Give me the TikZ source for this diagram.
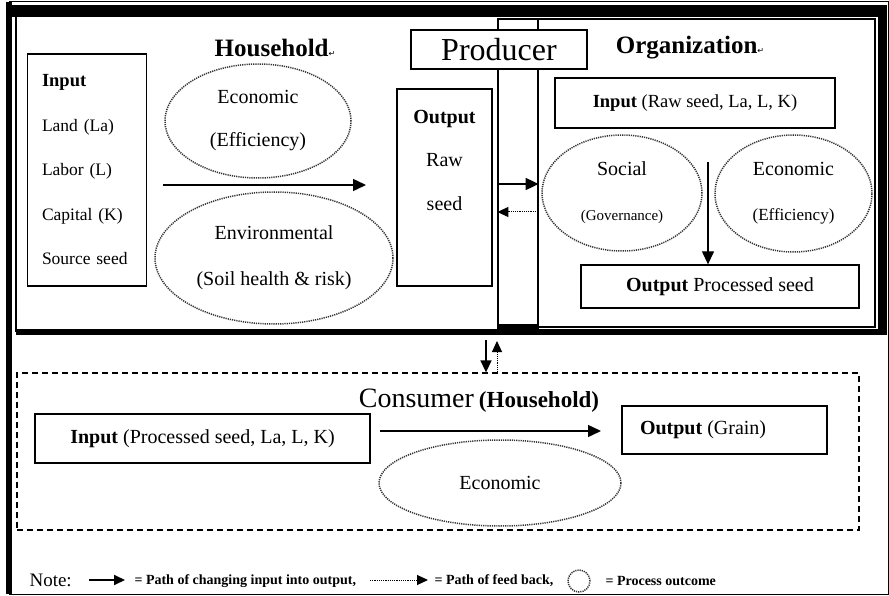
\documentclass[tikz,border=0pt]{standalone}
\usepackage{fontspec}
\setmainfont{Liberation Serif}
\newfontfamily\markfont{DejaVu Sans}
\usetikzlibrary{shapes.geometric,arrows.meta}

\begin{document}
\begin{tikzpicture}[x=1pt,y=-1pt,
    box/.style={draw, line width=1.3pt, inner sep=0pt},
    outcome/.style={draw=black!80, ellipse, line width=1.5pt, dash pattern=on 1.2pt off 1pt, text=black, inner sep=0pt, align=center},
    flow/.style={line width=1.5pt, -{Triangle[length=13pt,width=12pt]}},
    feedback/.style={line width=1pt, dash pattern=on 1.2pt off 1pt, -{Triangle[length=11pt,width=10pt]}}]

    \useasboundingbox (0,0) rectangle (889,596);
    \draw[line width=1pt] (9,2) rectangle (888,594);
    \draw[line width=6pt] (9,2) -- (9,594);

    \node[box, minimum width=40pt, minimum height=312pt] (col) at (518,175) {};
    \node[box, minimum width=337pt, minimum height=308pt] (orgbox) at (706.5,173) {};
    \draw[line width=12pt] (6,11) -- (887,11);
    \draw[line width=9pt] (882.5,5) -- (882.5,335);
    \draw[line width=6pt] (16,332) -- (887,332);
    \draw[line width=1.2pt] (16,11) -- (16,332);
    \fill (498,324) rectangle (538,335);

    \node[box, fill=white, minimum width=176pt, minimum height=39pt, font=\fontsize{32}{32}\selectfont] (producer) at (499,49.5) {Producer};
    \node[font=\bfseries\fontsize{25}{25}\selectfont] (household) at (275,48) {Household{\markfont\mdseries\fontsize{8}{8}\selectfont ↵}};
    \node[font=\bfseries\fontsize{25}{25}\selectfont] (orglabel) at (690,48) {Organization{\markfont\mdseries\fontsize{8}{8}\selectfont ↵}};

    \node[box, minimum width=119pt, minimum height=232pt, text width=90pt, align=left, font=\fontsize{17.5}{44.5}\selectfont] (hhin) at (87,170) {{\fontsize{18.5}{18.5}\selectfont\textbf{Input}}\\Land (La)\\Labor (L)\\Capital (K)\\Source seed};
    \node[outcome, minimum width=186pt, minimum height=114pt, font=\fontsize{20}{43}\selectfont] (hhecon) at (258,121) {Economic\\(Efficiency)};
    \node[outcome, minimum width=238pt, minimum height=132pt, font=\fontsize{20}{46}\selectfont] (hhenv) at (274,258) {Environmental\\(Soil health \& risk)};
    \coordinate (hhfrom) at (163,185);
    \coordinate (hhto) at (366,185);
    \draw[flow] (hhfrom) -- (hhto);

    \node[box, minimum width=95pt, minimum height=197pt] (hhout) at (444.5,187.5) {};
    \node[font=\fontsize{20}{43.5}\selectfont, align=center] (hhouttxt) at (444.5,160) {\textbf{Output}\\Raw\\seed};

    \coordinate (rawto) at (col.east |- 0,184);
    \draw[flow] (col.west |- rawto) -- (rawto);
    \coordinate (fbfrom) at (536,212);
    \draw[feedback] (fbfrom) -- (col.west |- fbfrom);

    \node[box, minimum width=280pt, minimum height=50pt, font=\fontsize{18.5}{18.5}\selectfont] (orgin) at (695,103) {\textbf{Input} (Raw seed, La, L, K)};
    \node[outcome, minimum width=160pt, minimum height=116pt, font=\fontsize{20}{45}\selectfont] (social) at (622,193) {Social\\{\fontsize{15}{15}\selectfont(Governance)}};
    \node[outcome, minimum width=157pt, minimum height=117pt, font=\fontsize{20}{45}\selectfont] (orgecon) at (793.5,193.5) {Economic\\{\fontsize{17}{17}\selectfont(Efficiency)}};
    \node[box, minimum width=278pt, minimum height=43pt, font=\fontsize{20}{20}\selectfont] (procout) at (720,286.5) {\textbf{Output} Processed seed};
    \coordinate (orgfrom) at (708,162);
    \draw[flow, line width=1.2pt] (orgfrom) -- (orgfrom |- procout.north);

    \node[draw, line width=1.3pt, dash pattern=on 6pt off 4pt, minimum width=842pt, minimum height=157pt] (consbox) at (438,451.5) {};
    \coordinate (downfrom) at (486,340);
    \draw[flow, -{Triangle[length=12pt,width=11pt]}] (downfrom) -- (downfrom |- consbox.north);
    \coordinate (upto) at (497,341);
    \draw[feedback] (upto |- consbox.north) -- (upto);

    \node (consumer) at (479,401) {{\fontsize{28}{28}\selectfont Consumer}\hspace{5pt}{\bfseries\fontsize{23}{23}\selectfont (Household)}};
    \node[box, minimum width=335pt, minimum height=49pt, font=\fontsize{20}{20}\selectfont] (consin) at (202.5,438.5) {\textbf{Input} (Processed seed, La, L, K)};
    \node[box, minimum width=205pt, minimum height=48pt, text width=169pt, align=flush left, font=\fontsize{20}{20}\selectfont] (consout) at (724.5,430) {\textbf{Output} (Grain)};
    \node[outcome, minimum width=242pt, minimum height=86pt, font=\fontsize{20}{20}\selectfont] (consecon) at (500,483) {Economic};
    \coordinate (consfrom) at (380,431);
    \coordinate (consto) at (601,431);
    \draw[flow] (consfrom) -- (consto);

    \node[anchor=west, font=\fontsize{19}{19}\selectfont] (note) at (26,580) {Note:};
    \coordinate (keyflowfrom) at (89,580);
    \coordinate (keyflowto) at (125,580);
    \draw[flow, line width=2pt, -{Triangle[length=11pt,width=10pt]}] (keyflowfrom) -- (keyflowto);
    \node[anchor=west, font=\bfseries\fontsize{14}{14}\selectfont] (keyflow) at (131,581) {= Path of changing input into output,};
    \coordinate (keyfbfrom) at (370,580);
    \coordinate (keyfbto) at (428,580);
    \draw[feedback] (keyfbfrom) -- (keyfbto);
    \node[anchor=west, font=\bfseries\fontsize{14}{14}\selectfont] (keyfb) at (431,581) {= Path of feed back,};
    \node[outcome, circle, minimum size=22pt] (keyoutcome) at (579,581) {};
    \node[anchor=west, font=\bfseries\fontsize{14}{14}\selectfont] (keyout) at (602,581) {= Process outcome};
\end{tikzpicture}
\end{document}
